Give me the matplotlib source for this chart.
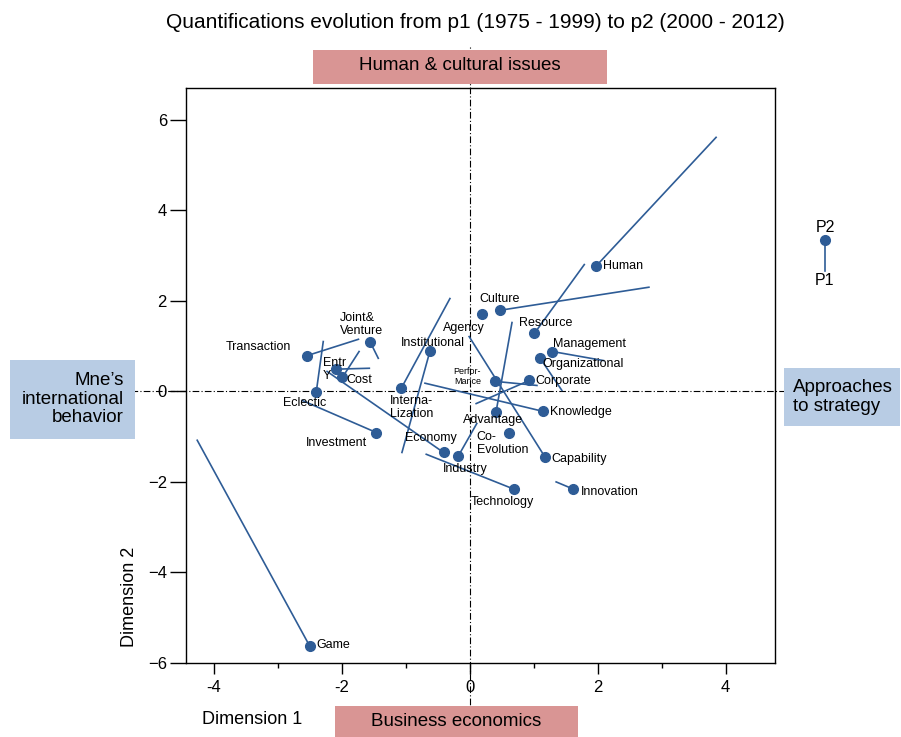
import numpy as np
import matplotlib.pyplot as plt
from matplotlib.patches import Rectangle
from matplotlib.lines import Line2D

plt.rcParams['font.family'] = ['Liberation Sans', 'DejaVu Sans']

##------------- data: p2 (dot) and p1 (line end) -----------------
terms = ['Human', 'Culture', 'Agency', 'Resource', 'Management', 'Organizational',
         'Corporate', 'Perfor-\nMance', 'Advantage', 'Co-\nEvolution', 'Knowledge',
         'Capability', 'Innovation', 'Technology', 'Industry', 'Economy',
         'Institutional', 'Interna-\nLization', 'Investment', 'Eclectic',
         'Transaction', 'Joint&\nVenture', 'Entr\nY', 'Cost', 'Game']

p2_x = [1.97, 0.47, 0.19, 1.01, 1.29, 1.10, 0.93, 0.40, 0.41, 0.61, 1.14,
        1.18, 1.62, 0.69, -0.18, -0.41, -0.62, -1.07, -1.46, -2.40,
        -2.54, -1.56, -2.09, -1.99, -2.50]
p2_y = [2.76, 1.79, 1.70, 1.28, 0.88, 0.73, 0.24, 0.22, -0.46, -0.93, -0.44,
        -1.46, -2.16, -2.16, -1.43, -1.35, 0.90, 0.07, -0.91, -0.02,
        0.79, 1.10, 0.49, 0.31, -5.63]

p1_x = [3.85, 2.80, 0.19, 1.79, 2.09, 1.44, 0.10, 1.05, 0.66, 0.61, -0.70,
        -0.01, 1.35, -0.68, 0.11, -2.23, -1.06, -0.31, -2.62, -2.29,
        -1.74, -1.43, -1.57, -1.73, -4.26]
p1_y = [5.61, 2.30, 1.70, 2.80, 0.68, 0.02, -0.27, 0.13, 1.52, -0.93, 0.18,
        1.21, -2.00, -1.39, -0.71, 0.44, -1.35, 2.05, -0.20, 1.10,
        1.15, 0.73, 0.51, 0.88, -1.08]

# label placement: (dx, dy) in pixels, alignment
lab_pos = {
    'Human': (7, 0, 'left'), 'Culture': (0, 11, 'center'), 'Agency': (-18, -14, 'center'),
    'Resource': (11, 10, 'center'), 'Management': (37, 8, 'center'),
    'Organizational': (43, -6, 'center'), 'Corporate': (6, -1, 'left'),
    'Perfor-\nMance': (-28, 5, 'center'), 'Advantage': (-3, -8, 'center'),
    'Co-\nEvolution': (-32, -10, 'left'), 'Knowledge': (7, -1, 'left'),
    'Capability': (6, -2, 'left'), 'Innovation': (7, -3, 'left'),
    'Technology': (-12, -13, 'center'), 'Industry': (7, -13, 'center'),
    'Economy': (-13, 14, 'center'), 'Institutional': (3, 8, 'center'),
    'Interna-\nLization': (-11, -19, 'left'), 'Investment': (-40, -10, 'center'),
    'Eclectic': (-12, -11, 'center'), 'Transaction': (-16, 9, 'right'),
    'Joint&\nVenture': (-30, 17, 'left'), 'Entr\nY': (-13, 0, 'left'),
    'Cost': (4, -3, 'left'), 'Game': (7, 1, 'left'),
}

blue = '#2e5c96'
pink = '#d99594'
lightblue = '#b8cce4'

fig = plt.figure(figsize=(9.01, 7.37), dpi=100)
ax = fig.add_axes([0.2061, 0.1004, 0.654, 0.7802])

# zero lines, reaching out to the side boxes
ax.plot([-5.3, 4.95], [0, 0], color='black', lw=0.8, ls=(0, (6, 2, 1, 2)),
        clip_on=False, zorder=1)
ax.plot([0, 0], [-7.2, 7.6], color='black', lw=0.8, ls=(0, (6, 2, 1, 2)),
        clip_on=False, zorder=1)

for i, t in enumerate(terms):
    ax.plot([p2_x[i], p1_x[i]], [p2_y[i], p1_y[i]], color=blue, lw=1.2, zorder=2)
ax.plot(p2_x, p2_y, 'o', color=blue, ms=7, zorder=3)

for i, t in enumerate(terms):
    dx, dy, ha = lab_pos[t]
    fs = 6.5 if t.startswith('Perfor') else 9
    ax.annotate(t, (p2_x[i], p2_y[i]), xytext=(dx, dy), textcoords='offset pixels',
                ha=ha, va='center', fontsize=fs, linespacing=1.1, zorder=4)

ax.set_xlim(-4.44, 4.77)
ax.set_ylim(-6, 6.7)
ax.set_xticks([-4, -2, 0, 2, 4])
ax.set_xticklabels(['-4', '-2', '0', '2', '4'])
ax.set_xticks([-3, -1, 1, 3], minor=True)
ax.set_yticks([-6, -4, -2, 0, 2, 4, 6])
ax.tick_params(axis='y', length=11.5, width=1, labelsize=12, pad=2)
ax.tick_params(axis='x', which='major', length=8, width=1, labelsize=12, pad=4)
ax.tick_params(axis='x', which='minor', length=3.6, width=1)
for s in ax.spines.values():
    s.set_linewidth(1)

##------------- figure texts and boxes -----------------
W, H = 901.0, 737.0

def box(x0, y0, x1, y1, color):
    fig.add_artist(Rectangle((x0 / W, 1 - y1 / H), (x1 - x0) / W, (y1 - y0) / H,
                             transform=fig.transFigure, facecolor=color,
                             edgecolor='none', zorder=5))

def ftext(x, y, s, **kw):
    fig.text(x / W, 1 - y / H, s, zorder=6, **kw)

ftext(475, 22, 'Quantifications evolution from p1 (1975 - 1999) to p2 (2000 - 2012)',
      ha='center', va='center', fontsize=15)

box(313, 50, 607, 84, pink)
ftext(460, 66, 'Human & cultural issues', ha='center', va='center', fontsize=13.5)
box(335, 706, 578, 737, pink)
ftext(456, 721, 'Business economics', ha='center', va='center', fontsize=13.5)
box(10, 360, 135, 439, lightblue)
ftext(124, 399, 'Mne\u2019s\ninternational\nbehavior', ha='right', va='center',
      fontsize=13.5, linespacing=1.1)
box(784, 368, 900, 426, lightblue)
ftext(793, 397, 'Approaches\nto strategy', ha='left', va='center',
      fontsize=13.5, linespacing=1.1)

ftext(130, 597, 'Dimension 2', ha='center', va='center', fontsize=13, rotation=90)
ftext(252, 720, 'Dimension 1', ha='center', va='center', fontsize=13)

# legend P2 / P1
fig.add_artist(Line2D([825 / W, 825 / W], [1 - 240 / H, 1 - 271 / H],
                      transform=fig.transFigure, color=blue, lw=1.2))
fig.add_artist(Line2D([825 / W], [1 - 240 / H], transform=fig.transFigure,
                      marker='o', color=blue, ms=7))
ftext(825, 228, 'P2', ha='center', va='center', fontsize=11.5)
ftext(825, 281, 'P1', ha='center', va='center', fontsize=11.5)

fig.savefig('out.png', dpi=100)
